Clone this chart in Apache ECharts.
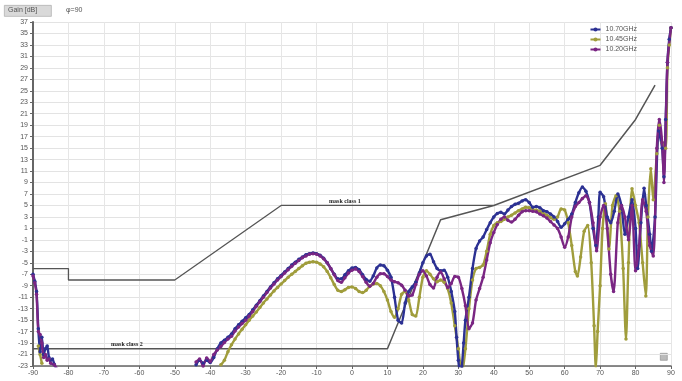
<!DOCTYPE html>
<html>
<head>
<meta charset="utf-8">
<script src="https://cdn.jsdelivr.net/npm/echarts@6/dist/echarts.min.js"></script>
<style>html,body{margin:0;padding:0;background:#fff;}#c{width:682px;height:381px;}</style>
</head>
<body>
<div id="c"></div>
<script>
// x ticks: -90..90 step 10 ; y ticks: -23..37 step 2
var xTicks = [-90,-80,-70,-60,-50,-40,-30,-20,-10,0,10,20,30,40,50,60,70,80,90];
var seriesNames = ['10.70GHz','10.45GHz','10.20GHz'];

// [angle deg, gain dB]
var blue1070 = [
[-90,-7],[-89.5,-8.2],[-89,-10],[-88.5,-16.5],[-88,-20.5],[-87.5,-18],[-87,-21],[-86.5,-20],[-86,-19.5],[-85.5,-21.5],[-85,-22],[-84.5,-21.8],[-84,-22.7],[-83.5,-23.6],[-83,null],
[-44,-22.8],[-43,-22],[-42,-22.5],[-41,-22],[-40,-22.4],[-39,-21.5],[-38,-20],[-37,-19],[-36,-18.5],[-35,-18],[-34,-17.4],[-33,-16.5],[-32,-15.8],[-31,-15.2],[-30,-14.6],[-29,-14],[-28,-13.2],[-27,-12.4],[-26,-11.6],[-25,-10.8],[-24,-10],[-23,-9.2],[-22,-8.5],[-21,-7.8],[-20,-7.2],[-19,-6.6],[-18,-6],[-17,-5.4],[-16,-4.9],[-15,-4.4],[-14,-4],[-13,-3.6],[-12,-3.4],[-11,-3.3],[-10,-3.4],[-9,-3.7],[-8,-4.2],[-7,-5],[-6,-6],[-5,-7],[-4,-7.8],[-3,-7.8],[-2,-7.1],[-1,-6.4],[0,-5.9],[1,-5.8],[2,-6.2],[3,-7.1],[4,-7.9],[5,-8.2],[6,-7.3],[7,-5.9],[8,-5.4],[9,-5.5],[10,-6.3],[11,-7.5],[12,-11],[13,-15],[14,-15.5],[15,-12],[16,-10],[17,-9.2],[18,-8.4],[19,-6.8],[20,-5],[21,-3.8],[22,-3.5],[23,-4.8],[24,-6],[25,-6.4],[26,-6.3],[27,-7.5],[28,-10],[29,-13.5],[29.5,-18],[30,-22],[30.5,-24.5],[31,-23],[31.5,-19],[32,-15],[33,-11],[34,-6],[35,-2.5],[36,-1.2],[37,-0.5],[38,0.8],[39,2],[40,3],[41,3.6],[42,3.8],[43,3.5],[44,4.2],[45,4.8],[46,5.2],[47,5.4],[48,5.8],[49,6],[50,5.5],[51,4.7],[52,4.8],[53,4.6],[54,4.1],[55,3.9],[56,3.5],[57,3],[58,2.2],[59,1.2],[60,1.8],[61,2.6],[62,3.5],[63,5.5],[64,7.2],[65,8.2],[66,7.5],[67,5.5],[68,1],[68.8,-2],[69.5,3],[70,7.3],[71,6.5],[72,3],[73,2],[74,4],[75,7],[76,5],[77,0],[78,3],[79,6],[80,1],[80.6,-6],[81.5,2],[82.4,8],[83,5],[84,0],[84.5,-3],[85.5,3],[86.5,18],[87.5,15],[88,10],[88.5,20],[89,30],[89.5,34],[90,36]
];
var olive1045 = [
[-88.5,-19.5],[-88,-21],[-87.5,-22.5],[-87,null],
[-37,-22.8],[-36,-22],[-35,-20.5],[-34,-19.3],[-33,-18.3],[-32,-17.4],[-31,-16.6],[-30,-15.8],[-29,-15],[-28,-14.3],[-27,-13.6],[-26,-12.8],[-25,-12],[-24,-11.3],[-23,-10.6],[-22,-9.9],[-21,-9.3],[-20,-8.7],[-19,-8.1],[-18,-7.5],[-17,-7],[-16,-6.5],[-15,-6],[-14,-5.5],[-13,-5.1],[-12,-4.9],[-11,-4.8],[-10,-4.9],[-9,-5.2],[-8,-5.7],[-7,-6.5],[-6,-7.6],[-5,-8.8],[-4,-9.8],[-3,-10],[-2,-9.7],[-1,-9.3],[0,-9.2],[1,-9.5],[2,-10],[3,-10.2],[4,-9.8],[5,-9.1],[6,-8.7],[7,-8.6],[8,-9],[9,-10],[10,-11.5],[11,-13.5],[12,-14.5],[13,-13],[14,-10.5],[15,-10],[16,-11.5],[17,-14],[18,-14.3],[19,-11],[20,-7.5],[21,-6.4],[22,-7],[23,-7.8],[24,-8.3],[25,-8],[26,-8.4],[27,-9.5],[28,-12],[29,-16],[30,-20],[31,-24.5],[32,-20],[33,-13],[34,-8],[35,-6],[36,-5.8],[37,-5.4],[38,-3],[39,0],[40,1.5],[41,2],[42,2.2],[43,2.6],[44,3],[45,3.3],[46,3.7],[47,4.1],[48,4.4],[49,4.7],[50,4.6],[51,4.3],[52,4.2],[53,4],[54,3.6],[55,3.3],[56,2.9],[57,2.6],[58,3],[59,4.4],[60,4.2],[61,2],[62,-2],[63,-6.5],[63.6,-7.3],[64.5,-4],[65.5,0.5],[66.5,1.5],[67.5,-5],[68.3,-16],[68.8,-23.5],[69.3,-17],[70,-9],[70.7,1],[71.5,5.3],[72.5,-2.6],[73.5,5],[74.5,6.7],[75.5,4],[76.5,-6],[77.3,-18.3],[78,-5],[79,7.9],[80,5],[81,2],[82,-5],[82.9,-10.8],[83.5,3],[84.3,11.4],[85,6],[86,14],[86.7,19],[87.5,16],[88.5,15],[89,29],[89.5,33],[90,36]
];
var purple1020 = [
[-90,-7.3],[-89.5,-8.5],[-89,-10.5],[-88.5,-17],[-88,-17.5],[-87.5,-19],[-87,-21.5],[-86.5,-21],[-86,-22],[-85.5,-21.8],[-85,-22.5],[-84,-22.8],[-83,-23.6],[-82.5,null],
[-44,-22.3],[-43,-21.8],[-42,-23],[-41,-21.6],[-40,-22.2],[-39,-21],[-38,-20.2],[-37,-19.6],[-36,-18.9],[-35,-18.3],[-34,-17.8],[-33,-16.9],[-32,-16.2],[-31,-15.6],[-30,-15],[-29,-14.3],[-28,-13.5],[-27,-12.6],[-26,-11.8],[-25,-11],[-24,-10.2],[-23,-9.4],[-22,-8.7],[-21,-8],[-20,-7.4],[-19,-6.8],[-18,-6.2],[-17,-5.6],[-16,-5.1],[-15,-4.6],[-14,-4.1],[-13,-3.8],[-12,-3.5],[-11,-3.4],[-10,-3.5],[-9,-3.8],[-8,-4.3],[-7,-5],[-6,-6],[-5,-7.1],[-4,-8.1],[-3,-8.4],[-2,-7.6],[-1,-6.8],[0,-6.3],[1,-6.1],[2,-6.5],[3,-7.4],[4,-8.4],[5,-9.1],[6,-8.6],[7,-7.5],[8,-6.9],[9,-6.9],[10,-7.4],[11,-8],[12,-8.3],[13,-8.5],[14,-8.9],[15,-9.8],[16,-10.8],[17,-10.6],[18,-8.8],[19,-7],[20,-6.4],[21,-7.3],[22,-8.8],[23,-9.4],[24,-7.5],[25,-6.6],[26,-7.8],[27,-9.3],[28,-8.6],[29,-7.4],[30,-7.5],[31,-9.5],[32,-12.5],[33,-16.5],[34,-15.5],[35,-11.5],[36,-9.5],[37,-7.5],[38,-4.5],[39,-1.5],[40,0.3],[41,1.7],[42,2.6],[43,3],[44,2.4],[45,2.1],[46,2.6],[47,3.3],[48,3.9],[49,4.1],[50,4.1],[51,4],[52,3.9],[53,3.5],[54,3.2],[55,2.8],[56,2.2],[57,1.6],[58,1],[59,-0.5],[60,-2.3],[61,-0.5],[62,3],[63,4.8],[64,5.5],[65,6.2],[66,6.7],[67,5.5],[68,2],[69,-2.9],[70,3],[71,5],[72,1],[73,-7],[73.8,-10],[75,2],[76,5],[77,3],[78,-1],[79,5],[80,-6.4],[81,-2],[82,6],[83,4],[84,-2],[85,-3.8],[86,15],[86.7,20],[87.5,16],[88,9],[89,30],[90,36]
];
var maskClass1 = [[-90,-6],[-80,-6],[-80,-8],[-50,-8],[-20,5],[40,5]];
var maskClass2 = [[-90,-20],[10,-20],[25,2.5],[40,5],[70,12],[80,20],[85.5,26]];

var colors = {'10.70GHz':'#2c3193','10.45GHz':'#a09d3c','10.20GHz':'#7a2683'};

function curve(name, data){
  return {
    name: name, type: 'line', data: data, smooth: 0.25,
    showSymbol: true, showAllSymbol: true, symbol: 'circle', symbolSize: 3.5,
    connectNulls: false, clip: true,
    lineStyle: {width: 2.4, color: colors[name]},
    itemStyle: {color: colors[name]},
    emphasis: {disabled: true}, z: 3
  };
}

var chart = echarts.init(document.getElementById('c'), null, {renderer: 'canvas'});
chart.setOption({
  animation: false,
  backgroundColor: '#fff',
  grid: {left: 33, right: 11, top: 22, bottom: 15, containLabel: false},
  legend: {
    data: seriesNames, orient: 'vertical', right: 40, top: 21,
    itemWidth: 10, itemHeight: 5, itemGap: 3,
    textStyle: {fontSize: 7, color: '#555', fontFamily: 'Liberation Sans'}
  },
  graphic: [
    {type: 'rect', left: 4, top: 5, shape: {width: 47, height: 11}, style: {fill: '#d9d9d9', stroke: '#aaa', lineWidth: 0.7}},
    {type: 'text', left: 8, top: 7, style: {text: 'Gain [dB]', fontSize: 7, fill: '#555', fontFamily: 'Liberation Sans'}},
    {type: 'text', left: 66, top: 7, style: {text: 'φ=90', fontSize: 7, fill: '#555', fontFamily: 'Liberation Sans'}},
    {type: 'rect', left: 660, top: 353, shape: {width: 7, height: 7}, style: {fill: '#bbb', stroke: '#888', lineWidth: 0.6}}
  ],
  xAxis: {
    type: 'value', min: -90, max: 90, interval: 10,
    axisLine: {onZero: false, lineStyle: {color: '#666', width: 1.5}},
    axisTick: {show: true, length: 3, lineStyle: {color: '#666'}},
    axisLabel: {fontSize: 7, color: '#555', margin: 4, fontFamily: 'Liberation Sans'},
    splitLine: {show: true, lineStyle: {color: '#e6e6e6', width: 1}}
  },
  yAxis: {
    type: 'value', min: -23, max: 37, interval: 2,
    axisLine: {show: true, onZero: false, lineStyle: {color: '#666', width: 2}},
    axisTick: {show: true, length: 3, lineStyle: {color: '#666'}},
    axisLabel: {fontSize: 7, color: '#555', margin: 5, fontFamily: 'Liberation Sans'},
    splitLine: {show: true, lineStyle: {color: '#e3e3e3', width: 1}}
  },
  series: [
    {
      name: 'mask class 1', type: 'line', data: maskClass1, symbol: 'none',
      lineStyle: {color: '#555', width: 1.3}, z: 2, emphasis: {disabled: true},
      markPoint: {symbol: 'circle', symbolSize: 0, data: [{coord: [-2, 5], value: 'mask class 1'}],
        label: {show: true, position: 'top', distance: 1, formatter: 'mask class 1', fontSize: 6, fontWeight: 'bold', color: '#222', fontFamily: 'Liberation Serif'}}
    },
    {
      name: 'mask class 2', type: 'line', data: maskClass2, symbol: 'none',
      lineStyle: {color: '#555', width: 1.5}, z: 2, emphasis: {disabled: true},
      markPoint: {symbol: 'circle', symbolSize: 0, data: [{coord: [-63.5, -20], value: 'mask class 2'}],
        label: {show: true, position: 'top', distance: 1, formatter: 'mask class 2', fontSize: 6, fontWeight: 'bold', color: '#222', fontFamily: 'Liberation Serif'}}
    },
    curve('10.45GHz', olive1045),
    curve('10.70GHz', blue1070),
    curve('10.20GHz', purple1020)
  ]
});
</script>
</body>
</html>
